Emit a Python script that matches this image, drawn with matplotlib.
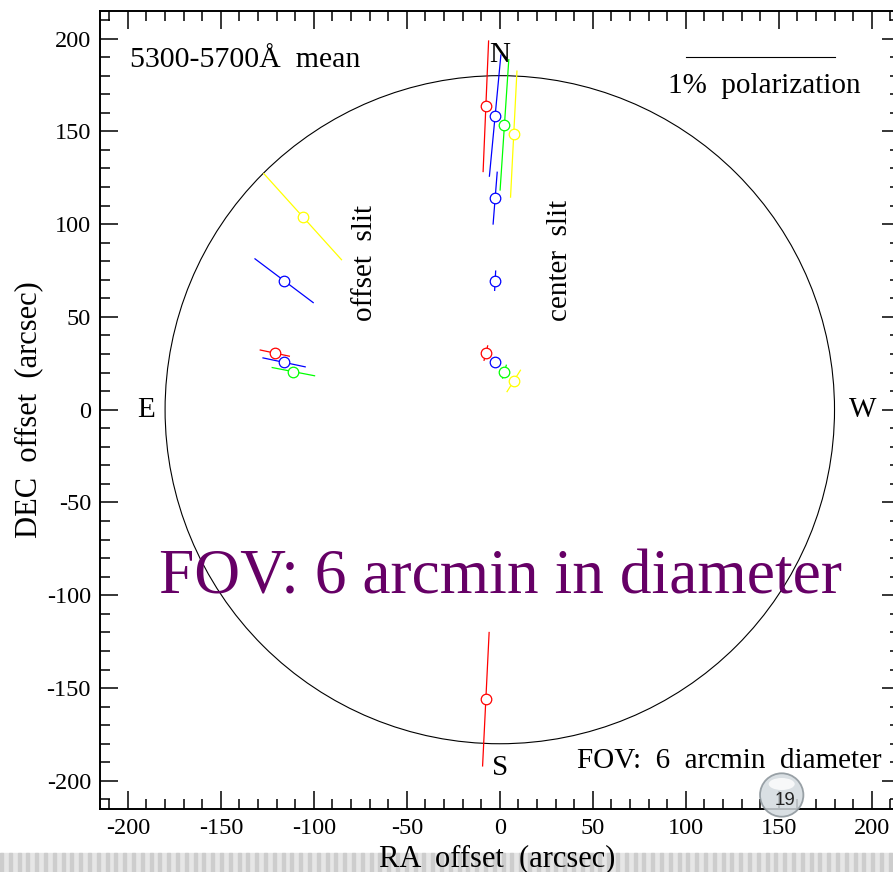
import numpy as np
import matplotlib
matplotlib.use('Agg')
import matplotlib.pyplot as plt
from matplotlib.patches import Circle, Ellipse, Rectangle
from matplotlib.ticker import MultipleLocator

plt.rcParams['font.family'] = ['Liberation Serif', 'DejaVu Serif']
plt.rcParams['axes.unicode_minus'] = False

# Titik pengukuran: offset (arcsec), polarisasi (%), sudut posisi (deg, dari N ke E)
ra_off = [-106, -116, -121, -116, -111,
          -7.5, -2.5, 2.5, 7.5, -2.5, -2.5, -7.5, -2.5, 2.5, 7.5, -7.5]
dec_off = [104, 69.5, 30.5, 25.5, 20.5,
           163.5, 158.5, 153.5, 148.5, 114, 69.5, 30.5, 25.5, 20.5, 15.5, -156]
pol = [0.78, 0.49, 0.20, 0.29, 0.29,
       0.88, 0.82, 0.88, 0.85, 0.35, 0.13, 0.10, 0.05, 0.09, 0.17, 0.90]
pa = [42, 53, 78, 78, 79,
      -2.4, -5.4, -3.8, -2.9, -4.5, -3, -14, 0, -16, -32, -2.8]
colors = ['yellow', 'blue', 'red', 'blue', 'lime',
          'red', 'blue', 'lime', 'yellow', 'blue', 'blue', 'red', 'blue', 'lime', 'yellow', 'red']

SCALE = 80.0      # arcsec per 1% polarisasi
FOV_RADIUS = 180  # 6 arcmin diameter

W, H = 893, 872
fig = plt.figure(figsize=(W / 100, H / 100), dpi=100)
ax = fig.add_axes([100 / W, (H - 808.7) / H, 799.6 / W, 798 / H])
ax.set_xlim(-215, 215)
ax.set_ylim(-215, 215)

# lingkaran FOV
ax.add_patch(Circle((0, 0), FOV_RADIUS, fill=False, color='black', lw=0.8))

# vektor polarisasi
for x, y, p, a, c in zip(ra_off, dec_off, pol, pa, colors):
    half = p * SCALE / 2
    dx = -half * np.sin(np.radians(a))
    dy = half * np.cos(np.radians(a))
    ax.plot([x - dx, x + dx], [y - dy, y + dy], color=c, lw=0.9, zorder=3)
    ax.plot(x, y, 'o', ms=7.6, mfc='white', mec=c, mew=0.9, zorder=4)

# skala 1%
ax.plot([100, 100 + SCALE], [190, 190], color='black', lw=0.8)
ax.text(90.4, 170.6, '1%  polarization', fontsize=21, va='baseline')

ax.text(-199, 184.8, '5300-5700Å  mean', fontsize=21.5, va='baseline')
ax.text(0, 187.3, 'N', fontsize=21, ha='center', va='baseline')
ax.text(0, -192.8, 'S', fontsize=21, ha='center', va='center')
ax.text(-190, 0, 'E', fontsize=21, ha='center', va='center')
ax.text(195, 0, 'W', fontsize=21, ha='center', va='center')
ax.text(-72.7, 79, 'offset  slit', fontsize=21, rotation=90, ha='center', va='center')
ax.text(32.2, 80.3, 'center  slit', fontsize=21, rotation=90, ha='center', va='center')
ax.text(205.4, -193.2, 'FOV:  6  arcmin  diameter', fontsize=21, ha='right', va='baseline')
ax.text(0.5, -98.9, 'FOV: 6 arcmin in diameter', fontsize=45.6, color='#660066',
        ha='center', va='baseline')

ax.xaxis.set_major_locator(MultipleLocator(50))
ax.xaxis.set_minor_locator(MultipleLocator(10))
ax.yaxis.set_major_locator(MultipleLocator(50))
ax.yaxis.set_minor_locator(MultipleLocator(10))
ax.tick_params(which='both', direction='in', top=True, right=True, width=1.1)
ax.tick_params(which='major', length=13, labelsize=17.5, pad=6.5)
ax.tick_params(which='minor', length=7.5)
for s in ax.spines.values():
    s.set_linewidth(1.4)

ax.set_xlabel('RA  offset  (arcsec)', fontsize=22)
ax.set_ylabel('DEC  offset  (arcsec)', fontsize=22)
ax.xaxis.set_label_coords(0.497, -0.045)
ax.yaxis.set_label_coords(-0.071, 0.5)

# strip abu-abu di bawah
band_h = (H - 852.7) / H
fig.add_artist(Rectangle((0, 0), 1, band_h, transform=fig.transFigure,
                         color='#e6e6e6', zorder=-2))
for sx in np.arange(0, W, 8.8):
    fig.add_artist(Rectangle((sx / W, 0), 3 / W, band_h, transform=fig.transFigure,
                             color='#cdcdcd', zorder=-1))

# nomor halaman
cx, cy, r = 781.7 / W, 1 - 795 / H, 21.7
fig.add_artist(Ellipse((cx, cy), 2 * r / W, 2 * r / H, transform=fig.transFigure,
                       fc='#d3dade', ec='#8a9399', lw=1.3, alpha=0.85, zorder=5))
fig.add_artist(Ellipse((cx, cy + 11 / H), 26 / W, 12 / H, transform=fig.transFigure,
                       fc='white', ec='none', alpha=0.8, zorder=6))
fig.text(785 / W, 1 - 800 / H, '19', family='Liberation Sans', fontsize=13.5,
         color='#222222', ha='center', va='center', zorder=7)

fig.savefig('out.png', dpi=100)
